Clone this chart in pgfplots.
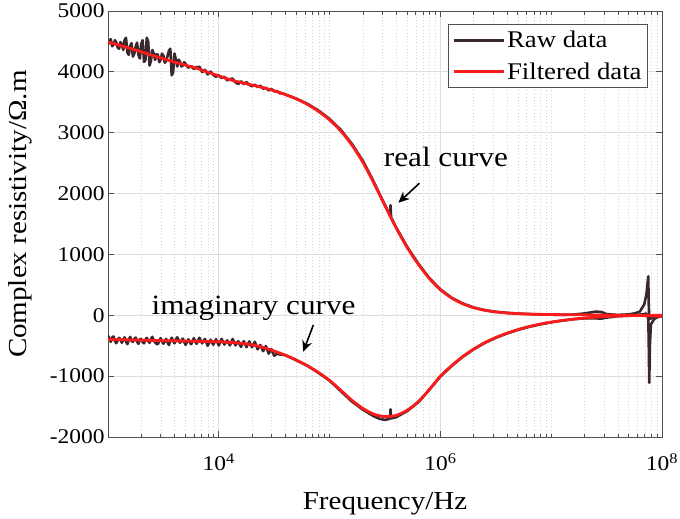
\documentclass[border=0pt]{standalone}
\usepackage{fontspec}
\setmainfont{Liberation Serif}[FakeStretch=1.12]
\usepackage{pgfplots}
\usepackage{pgfplotstable}
\pgfplotsset{compat=1.18}
\usetikzlibrary{arrows.meta}

\definecolor{rawc}{RGB}{58,40,44}
\definecolor{filtc}{RGB}{250,28,28}
\definecolor{gridmaj}{RGB}{222,222,222}
\definecolor{gridmin}{RGB}{212,212,212}
\definecolor{axc}{RGB}{80,80,80}

% Measured spectrum: lf = log10(frequency / Hz), re / im = resistivity (Ohm.m)
\pgfplotstableread{
lf re im
3.000 4450 -335
3.0125 4505 -390
3.025 4538 -436
3.0375 4420 -365
3.050 4445 -348
3.0625 4520 -420
3.075 4483 -459
3.0875 4400 -410
3.100 4380 -370
3.1125 4490 -395
3.125 4446 -451
3.1375 4360 -400
3.150 4523 -363
3.1625 4560 -430
3.175 4319 -474
3.1875 4280 -400
3.200 4425 -355
3.2125 4470 -420
3.225 4251 -436
3.2375 4300 -390
3.250 4418 -367
3.2625 4480 -435
3.275 4274 -468
3.2875 4220 -395
3.300 4460 -389
3.3125 4520 -440
3.325 4165 -460
3.3375 4190 -400
3.350 4560 -371
3.3625 4500 -420
3.375 4105 -452
3.3875 4180 -395
3.400 4360 -353
3.4125 4300 -410
3.425 4196 -444
3.4375 4290 -470
3.450 4283 -475
3.4625 4160 -420
3.475 4199 -376
3.4875 4300 -425
3.500 4265 -467
3.5125 4150 -430
3.525 4181 -388
3.5375 4260 -445
3.550 4348 -489
3.5625 4380 -420
3.575 3944 -369
3.5875 3990 -420
3.600 4300 -460
3.6125 4200 -400
3.625 4088 -361
3.6375 4200 -410
3.650 4165 -452
3.6625 4090 -420
3.675 4103 -383
3.6875 4160 -440
3.700 4130 -484
3.725 4068 -395
3.750 4095 -476
3.775 4048 -377
3.800 4075 -468
3.825 4084 -369
3.850 3998 -460
3.875 4031 -390
3.900 3960 -501
3.925 4005 -402
3.950 3950 -483
3.975 3920 -394
4.000 3945 -495
4.025 3899 -388
4.050 3918 -480
4.075 3861 -413
4.100 3880 -495
4.125 3889 -389
4.150 3828 -493
4.175 3801 -426
4.200 3845 -520
4.225 3800 -426
4.250 3830 -523
4.275 3785 -429
4.300 3765 -525
4.325 3789 -436
4.350 3753 -558
4.375 3771 -489
4.400 3725 -590
4.425 3738 -505
4.450 3695 -630
4.475 3718 -555
4.500 3680 -665
4.525 3684 -630
4.550 3648 -645
4.575 3646 -649
4.600 3628 -655
4.700 3560 -740
4.800 3475 -830
4.900 3365 -945
5.000 3225 -1075
5.100 3050 -1245
5.200 2820 -1415
5.300 2540 -1550
5.400 2190 -1660
5.450 1995 -1700
5.500 1810 -1720
5.530 1700 -1705
5.545 1640 -1700
5.550 1810 -1545
5.555 1610 -1695
5.600 1445 -1675
5.700 1125 -1575
5.800 850 -1430
5.900 612 -1225
6.000 425 -1005
6.100 290 -835
6.200 195 -685
6.300 128 -560
6.400 85 -455
6.500 57 -370
6.600 40 -300
6.700 28 -240
6.800 20 -190
6.900 14 -150
7.000 10 -115
7.100 8 -88
7.200 12 -65
7.300 30 -50
7.400 60 -50
7.450 55 -55
7.500 20 -38
7.600 5 -15
7.700 15 -6
7.750 30 0
7.800 60 10
7.840 180 20
7.860 350 30
7.876 640 -50
7.880 200 -400
7.885 -30 -1110
7.890 -60 -500
7.900 -50 -150
7.930 -35 -60
7.960 -25 -30
8.000 -20 -10
}\rawdata

% Smoothed (filtered) spectrum
\pgfplotstableread{
lf re im
3.0 4490 -395
3.1 4440 -400
3.2 4385 -405
3.3 4330 -409
3.4 4270 -413
3.5 4215 -417
3.6 4160 -420
3.7 4110 -424
3.8 4060 -428
3.9 3995 -431
4.0 3935 -435
4.1 3872 -445
4.2 3825 -460
4.3 3783 -485
4.4 3740 -528
4.5 3690 -588
4.6 3628 -655
4.7 3555 -735
4.8 3465 -830
4.9 3350 -940
5.0 3210 -1070
5.1 3030 -1230
5.2 2800 -1395
5.3 2515 -1530
5.4 2170 -1625
5.5 1800 -1665
5.6 1440 -1645
5.7 1115 -1560
5.8 840 -1420
5.9 605 -1220
6.0 420 -1000
6.1 285 -830
6.2 190 -680
6.3 125 -555
6.4 82 -450
6.5 55 -365
6.6 38 -295
6.7 27 -235
6.8 20 -185
6.9 15 -145
7.0 12 -112
7.1 10 -85
7.2 8 -63
7.3 7 -45
7.4 5 -31
7.5 4 -20
7.6 2 -12
7.7 0 -6
7.8 -3 -3
7.9 -10 -1
8.0 -20 0
}\filtdata

\begin{document}
\begin{tikzpicture}
\useasboundingbox (-108bp,-82bp) rectangle (572bp,437bp);
\begin{axis}[
  at={(0,0)}, anchor=south west,
  scale only axis, width=554bp, height=426bp,
  xmode=log, xmin=1000, xmax=100000000,
  ymin=-2000, ymax=5000,
  xtick={10000,1000000,100000000},
  xticklabels={10\textsuperscript{4},10\textsuperscript{6},10\textsuperscript{8}},
  minor xtick={2000,3000,4000,5000,6000,7000,8000,9000,
    20000,30000,40000,50000,60000,70000,80000,90000,
    100000,200000,300000,400000,500000,600000,700000,800000,900000,
    2000000,3000000,4000000,5000000,6000000,7000000,8000000,9000000,
    10000000,20000000,30000000,40000000,50000000,60000000,70000000,80000000,90000000},
  ytick={-2000,-1000,0,1000,2000,3000,4000,5000},
  yticklabels={-2000,-1000,0,1000,2000,3000,4000,5000},
  grid=both,
  major grid style={gridmaj, line width=0.8bp},
  minor grid style={gridmin, line width=0.6bp, dash pattern=on 1bp off 2.2bp},
  tick align=inside,
  major tick length=6bp, minor tick length=3.5bp,
  every tick/.style={axc, line width=0.8bp},
  axis line style={axc, line width=0.9bp},
  xticklabel style={font=\fontsize{21}{21}\selectfont, yshift=-13bp},
  yticklabel style={font=\fontsize{21}{21}\selectfont},
  xlabel={Frequency/Hz},
  ylabel={Complex resistivity/Ω.m},
  xlabel style={font=\fontsize{26}{26}\selectfont, at={(axis description cs:0.5,-0.171)}, anchor=base},
  ylabel style={font=\fontsize{26}{26}\selectfont, at={(axis description cs:-0.159,0.523)}, anchor=center},
  legend style={at={(1,1)}, anchor=north east, xshift=-14bp, yshift=-13bp,
    draw=axc, line width=0.8bp, fill=white,
    font=\fontsize{24}{24}\selectfont,
    inner xsep=4bp, inner ysep=5bp, row sep=9bp,
    nodes={inner sep=2bp},
    cells={anchor=west}},
  legend image code/.code={\draw[#1, line width=3bp] (0bp,0bp) -- (50bp,0bp);},
]
\addplot[rawc, line width=2.6bp, line join=round] table[x expr={10^(\thisrow{lf})}, y=re] {\rawdata};
\addlegendentry{Raw data}
\addplot[rawc, line width=2.6bp, line join=round, forget plot] table[x expr={10^(\thisrow{lf})}, y=im] {\rawdata};
\addplot[filtc, line width=2.8bp, smooth] table[x expr={10^(\thisrow{lf})}, y=re] {\filtdata};
\addlegendentry{Filtered data}
\addplot[filtc, line width=2.8bp, smooth, forget plot] table[x expr={10^(\thisrow{lf})}, y=im] {\filtdata};

\node[font=\fontsize{28}{28}\selectfont, anchor=base] at (axis cs:1120000,2437) {real curve};
\draw[-{Stealth[length=11bp,width=10bp]}, line width=1.6bp] (axis cs:646000,2169) -- (axis cs:418000,1850);
\node[font=\fontsize{28}{28}\selectfont, anchor=base] at (axis cs:20600,5) {imaginary curve};
\draw[-{Stealth[length=11bp,width=10bp]}, line width=1.6bp] (axis cs:71300,-160) -- (axis cs:57800,-598);
\end{axis}
\end{tikzpicture}
\end{document}
